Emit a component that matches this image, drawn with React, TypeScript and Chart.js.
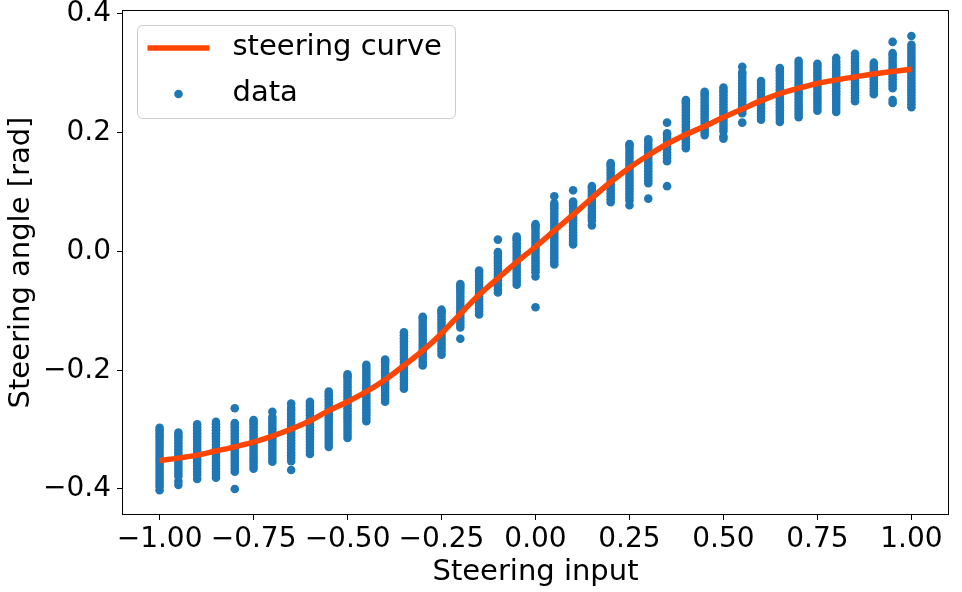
import React, { useEffect, useRef } from "react";
import { Chart, registerables } from "chart.js";

Chart.register(...registerables);

// Steering input levels (x positions of the measured columns)
const inputLevels = [
  -1.0, -0.95, -0.9, -0.85, -0.8, -0.75, -0.7, -0.65, -0.6, -0.55,
  -0.5, -0.45, -0.4, -0.35, -0.3, -0.25, -0.2, -0.15, -0.1, -0.05,
  0.0, 0.05, 0.1, 0.15, 0.2, 0.25, 0.3, 0.35, 0.4, 0.45,
  0.5, 0.55, 0.6, 0.65, 0.7, 0.75, 0.8, 0.85, 0.9, 0.95, 1.0,
];

const angleSamples: number[][] = [
  [-0.402, -0.396, -0.391, -0.386, -0.381, -0.376, -0.371, -0.366, -0.361, -0.356, -0.351, -0.346, -0.341, -0.336, -0.331, -0.326, -0.321, -0.316, -0.311, -0.306, -0.301, -0.297],
  [-0.393, -0.387, -0.378, -0.373, -0.368, -0.363, -0.358, -0.353, -0.348, -0.343, -0.338, -0.333, -0.328, -0.323, -0.318, -0.313, -0.309, -0.305],
  [-0.383, -0.376, -0.371, -0.366, -0.361, -0.356, -0.351, -0.346, -0.341, -0.336, -0.331, -0.326, -0.321, -0.316, -0.311, -0.306, -0.301, -0.296, -0.291],
  [-0.381, -0.376, -0.371, -0.366, -0.361, -0.356, -0.351, -0.346, -0.341, -0.336, -0.331, -0.326, -0.321, -0.316, -0.311, -0.306, -0.301, -0.296, -0.291, -0.287],
  [-0.4, -0.371, -0.366, -0.361, -0.356, -0.351, -0.346, -0.341, -0.336, -0.331, -0.326, -0.321, -0.316, -0.311, -0.306, -0.301, -0.296, -0.292, -0.289, -0.264],
  [-0.366, -0.361, -0.356, -0.351, -0.346, -0.341, -0.336, -0.331, -0.326, -0.321, -0.316, -0.311, -0.306, -0.301, -0.296, -0.291, -0.287, -0.284],
  [-0.354, -0.349, -0.344, -0.339, -0.334, -0.329, -0.324, -0.319, -0.314, -0.309, -0.304, -0.299, -0.294, -0.289, -0.284, -0.279, -0.27],
  [-0.368, -0.353, -0.348, -0.343, -0.338, -0.333, -0.328, -0.323, -0.318, -0.313, -0.308, -0.303, -0.298, -0.293, -0.288, -0.283, -0.278, -0.273, -0.268, -0.263, -0.256],
  [-0.341, -0.336, -0.331, -0.326, -0.321, -0.316, -0.311, -0.306, -0.301, -0.296, -0.291, -0.286, -0.281, -0.276, -0.271, -0.266, -0.261, -0.257, -0.253],
  [-0.329, -0.324, -0.319, -0.314, -0.309, -0.304, -0.299, -0.294, -0.289, -0.284, -0.279, -0.274, -0.269, -0.264, -0.259, -0.254, -0.249, -0.244, -0.24, -0.236],
  [-0.314, -0.309, -0.304, -0.299, -0.294, -0.289, -0.284, -0.279, -0.274, -0.269, -0.264, -0.259, -0.254, -0.249, -0.244, -0.239, -0.234, -0.229, -0.224, -0.219, -0.214, -0.21, -0.207],
  [-0.286, -0.281, -0.276, -0.271, -0.266, -0.261, -0.256, -0.251, -0.246, -0.241, -0.236, -0.231, -0.226, -0.221, -0.216, -0.211, -0.206, -0.201, -0.196, -0.191],
  [-0.253, -0.248, -0.243, -0.238, -0.233, -0.228, -0.223, -0.218, -0.213, -0.208, -0.203, -0.198, -0.193, -0.188, -0.185, -0.182],
  [-0.231, -0.226, -0.221, -0.216, -0.211, -0.206, -0.201, -0.196, -0.191, -0.186, -0.181, -0.176, -0.171, -0.166, -0.161, -0.156, -0.151, -0.146, -0.141, -0.136],
  [-0.192, -0.187, -0.182, -0.177, -0.172, -0.167, -0.162, -0.157, -0.152, -0.147, -0.142, -0.137, -0.132, -0.127, -0.122, -0.117, -0.113, -0.11],
  [-0.174, -0.169, -0.164, -0.159, -0.154, -0.149, -0.144, -0.139, -0.134, -0.129, -0.124, -0.119, -0.114, -0.109, -0.104, -0.101, -0.098],
  [-0.147, -0.128, -0.123, -0.118, -0.113, -0.108, -0.103, -0.098, -0.093, -0.088, -0.083, -0.078, -0.073, -0.068, -0.063, -0.059, -0.055],
  [-0.106, -0.101, -0.096, -0.091, -0.086, -0.081, -0.076, -0.071, -0.066, -0.061, -0.056, -0.051, -0.046, -0.041, -0.036, -0.032],
  [-0.069, -0.064, -0.059, -0.054, -0.049, -0.044, -0.039, -0.034, -0.029, -0.024, -0.019, -0.014, -0.009, -0.004, -0.001, 0.02],
  [-0.056, -0.051, -0.046, -0.041, -0.036, -0.031, -0.026, -0.021, -0.016, -0.011, -0.006, -0.001, 0.004, 0.009, 0.014, 0.019, 0.022, 0.025],
  [-0.094, -0.042, -0.035, -0.03, -0.025, -0.02, -0.015, -0.01, -0.005, 0.0, 0.005, 0.01, 0.015, 0.02, 0.025, 0.03, 0.035, 0.04, 0.043, 0.046],
  [-0.022, -0.017, -0.012, -0.007, -0.002, 0.003, 0.008, 0.013, 0.018, 0.023, 0.028, 0.033, 0.038, 0.043, 0.048, 0.053, 0.058, 0.063, 0.068, 0.073, 0.077, 0.081, 0.093],
  [0.012, 0.017, 0.022, 0.027, 0.032, 0.037, 0.042, 0.047, 0.052, 0.057, 0.062, 0.067, 0.072, 0.077, 0.081, 0.084, 0.103],
  [0.044, 0.052, 0.057, 0.062, 0.067, 0.072, 0.077, 0.082, 0.087, 0.092, 0.097, 0.102, 0.106, 0.11],
  [0.083, 0.088, 0.093, 0.098, 0.103, 0.108, 0.113, 0.118, 0.123, 0.128, 0.133, 0.138, 0.143, 0.146, 0.149],
  [0.078, 0.086, 0.091, 0.096, 0.101, 0.106, 0.111, 0.116, 0.121, 0.126, 0.131, 0.136, 0.141, 0.146, 0.151, 0.156, 0.161, 0.166, 0.171, 0.176, 0.179, 0.181],
  [0.089, 0.115, 0.12, 0.125, 0.13, 0.135, 0.14, 0.145, 0.15, 0.155, 0.16, 0.165, 0.17, 0.175, 0.18, 0.185, 0.189],
  [0.11, 0.152, 0.157, 0.162, 0.167, 0.172, 0.177, 0.182, 0.187, 0.192, 0.196, 0.199, 0.217],
  [0.174, 0.179, 0.184, 0.189, 0.194, 0.199, 0.204, 0.209, 0.214, 0.219, 0.224, 0.229, 0.234, 0.239, 0.244, 0.249, 0.252, 0.255],
  [0.196, 0.201, 0.206, 0.211, 0.216, 0.221, 0.226, 0.231, 0.236, 0.241, 0.246, 0.251, 0.256, 0.261, 0.265, 0.269],
  [0.19, 0.194, 0.203, 0.208, 0.213, 0.218, 0.223, 0.228, 0.233, 0.238, 0.243, 0.248, 0.253, 0.258, 0.263, 0.268, 0.272, 0.276],
  [0.217, 0.233, 0.238, 0.243, 0.248, 0.253, 0.258, 0.263, 0.268, 0.273, 0.278, 0.283, 0.288, 0.293, 0.298, 0.302, 0.311],
  [0.222, 0.227, 0.232, 0.237, 0.242, 0.247, 0.252, 0.257, 0.262, 0.267, 0.272, 0.277, 0.282, 0.287],
  [0.218, 0.223, 0.228, 0.233, 0.238, 0.243, 0.248, 0.253, 0.258, 0.263, 0.268, 0.273, 0.278, 0.283, 0.288, 0.293, 0.298, 0.303, 0.306, 0.309],
  [0.226, 0.231, 0.236, 0.241, 0.246, 0.251, 0.256, 0.261, 0.266, 0.271, 0.276, 0.281, 0.286, 0.291, 0.296, 0.301, 0.306, 0.311, 0.316, 0.321],
  [0.237, 0.242, 0.247, 0.252, 0.257, 0.262, 0.267, 0.272, 0.277, 0.282, 0.287, 0.292, 0.297, 0.302, 0.307, 0.312, 0.316],
  [0.235, 0.24, 0.245, 0.25, 0.255, 0.26, 0.265, 0.27, 0.275, 0.28, 0.285, 0.29, 0.295, 0.3, 0.305, 0.31, 0.315, 0.32, 0.326],
  [0.253, 0.258, 0.263, 0.268, 0.273, 0.278, 0.283, 0.288, 0.293, 0.298, 0.303, 0.308, 0.313, 0.318, 0.323, 0.328, 0.333],
  [0.265, 0.27, 0.275, 0.28, 0.285, 0.29, 0.295, 0.3, 0.305, 0.31, 0.314, 0.318],
  [0.25, 0.255, 0.275, 0.28, 0.285, 0.29, 0.295, 0.3, 0.305, 0.31, 0.315, 0.32, 0.325, 0.33, 0.334, 0.353],
  [0.243, 0.248, 0.253, 0.258, 0.263, 0.268, 0.273, 0.278, 0.283, 0.288, 0.293, 0.298, 0.303, 0.308, 0.313, 0.318, 0.323, 0.328, 0.333, 0.338, 0.343, 0.348, 0.363],
];

// Fitted steering curve, sampled at the same input levels
const curveAngle = [
  -0.352, -0.348, -0.343, -0.336, -0.329, -0.321, -0.311, -0.299, -0.285, -0.268,
  -0.253, -0.236, -0.216, -0.192, -0.167, -0.138, -0.105, -0.073, -0.045, -0.018,
  0.008, 0.035, 0.062, 0.09, 0.117, 0.141, 0.162, 0.181, 0.197, 0.211,
  0.226, 0.24, 0.254, 0.266, 0.275, 0.283, 0.289, 0.294, 0.299, 0.303, 0.307,
];

const xTicks = [-1.0, -0.75, -0.5, -0.25, 0.0, 0.25, 0.5, 0.75, 1.0];
const yTicks = [-0.4, -0.2, 0.0, 0.2, 0.4];

const FONT = "'DejaVu Sans', sans-serif";
const CURVE_COLOR = "#ff4500";
const POINT_COLOR = "#1f77b4";

const fmt = (v: number, d: number) => {
  const s = Math.abs(v).toFixed(d);
  return v < -1e-9 ? "\u2212" + s : s;
};

const framePlugin = {
  id: "frame",
  afterDatasetsDraw(chart: any) {
    const { ctx, chartArea: a } = chart;
    ctx.save();
    ctx.strokeStyle = "#000";
    ctx.lineWidth = 1;
    ctx.strokeRect(Math.round(a.left) + 0.5, Math.round(a.top) + 0.5, Math.round(a.right - a.left) - 1, Math.round(a.bottom - a.top) - 1);
    ctx.restore();
  },
};

const legendPlugin = {
  id: "mplLegend",
  afterDraw(chart: any) {
    const { ctx, chartArea: a } = chart;
    const ds = chart.data.datasets;
    const x0 = a.left + 15.5;
    const y0 = a.top + 15.5;
    const w = 318;
    const h = 93;
    ctx.save();
    ctx.beginPath();
    ctx.roundRect(x0, y0, w, h, 5);
    ctx.fillStyle = "rgba(255,255,255,0.8)";
    ctx.fill();
    ctx.strokeStyle = "#cccccc";
    ctx.lineWidth = 1;
    ctx.stroke();

    // line entry
    ctx.beginPath();
    ctx.moveTo(x0 + 10, y0 + 22.5);
    ctx.lineTo(x0 + 72, y0 + 22.5);
    ctx.strokeStyle = ds[0].borderColor;
    ctx.lineWidth = 5.5;
    ctx.lineCap = "butt";
    ctx.stroke();

    // scatter entry
    ctx.beginPath();
    ctx.arc(x0 + 41, y0 + 68.5, 4.3, 0, Math.PI * 2);
    ctx.fillStyle = ds[1].backgroundColor;
    ctx.fill();

    ctx.fillStyle = "#000";
    ctx.font = `29px ${FONT}`;
    ctx.textBaseline = "middle";
    ctx.textAlign = "left";
    ctx.fillText(ds[0].label, x0 + 95, y0 + 22);
    ctx.fillText(ds[1].label, x0 + 95, y0 + 68);
    ctx.restore();
  },
};

export default function App() {
  const ref = useRef<HTMLCanvasElement | null>(null);

  useEffect(() => {
    document.body.style.margin = "0";
    const canvas = ref.current;
    if (!canvas) return;

    const scatterPoints = inputLevels.flatMap((x, i) =>
      angleSamples[i].map((y) => ({ x, y }))
    );
    const curvePoints = inputLevels.map((x, i) => ({ x, y: curveAngle[i] }));

    const chart = new Chart(canvas, {
      type: "scatter",
      data: {
        datasets: [
          {
            type: "line",
            label: "steering curve",
            data: curvePoints,
            borderColor: CURVE_COLOR,
            backgroundColor: CURVE_COLOR,
            borderWidth: 5.5,
            pointRadius: 0,
            cubicInterpolationMode: "monotone",
            fill: false,
          } as any,
          {
            label: "data",
            data: scatterPoints,
            backgroundColor: POINT_COLOR,
            borderColor: POINT_COLOR,
            borderWidth: 0,
            pointRadius: 4.3,
            pointHoverRadius: 4.3,
          },
        ],
      },
      plugins: [framePlugin, legendPlugin],
      options: {
        responsive: false,
        animation: false,
        devicePixelRatio: 1,
        layout: { padding: { top: 10, right: 13, left: 0, bottom: 0 } },
        plugins: {
          legend: { display: false },
          tooltip: { enabled: false },
        },
        scales: {
          x: {
            type: "linear",
            min: -1.1,
            max: 1.1,
            afterBuildTicks: (s: any) => {
              s.ticks = xTicks.map((v) => ({ value: v }));
            },
            afterFit: (s: any) => {
              s.height = 77;
              s.paddingLeft = 0;
              s.paddingRight = 0;
            },
            grid: {
              display: true,
              drawOnChartArea: false,
              drawTicks: true,
              tickLength: 5,
              color: "#000",
              lineWidth: 1,
            },
            border: { display: false },
            ticks: {
              color: "#000",
              font: { family: FONT, size: 28 },
              padding: 3,
              maxRotation: 0,
              autoSkip: false,
              callback: (v: any) => fmt(Number(v), 2),
            },
            title: {
              display: true,
              text: "Steering input",
              color: "#000",
              font: { family: FONT, size: 29 },
              padding: { top: 0, bottom: 2 },
            },
          },
          y: {
            type: "linear",
            min: -0.4438,
            max: 0.4067,
            afterBuildTicks: (s: any) => {
              s.ticks = yTicks.map((v) => ({ value: v }));
            },
            afterFit: (s: any) => {
              s.width = 122;
              s.paddingTop = 0;
              s.paddingBottom = 0;
            },
            grid: {
              display: true,
              drawOnChartArea: false,
              drawTicks: true,
              tickLength: 5,
              color: "#000",
              lineWidth: 1,
            },
            border: { display: false },
            ticks: {
              color: "#000",
              font: { family: FONT, size: 28 },
              padding: 6,
              autoSkip: false,
              callback: (v: any) => fmt(Number(v), 1),
            },
            title: {
              display: true,
              text: "Steering angle [rad]",
              color: "#000",
              font: { family: FONT, size: 29 },
              padding: { top: 4, bottom: 0 },
            },
          },
        },
      },
    });

    return () => chart.destroy();
  }, []);

  return (
    <div style={{ position: "fixed", left: 0, top: 0, width: 962, height: 592, background: "#fff" }}>
      <canvas ref={ref} width={962} height={592} style={{ display: "block", width: 962, height: 592 }} />
    </div>
  );
}
